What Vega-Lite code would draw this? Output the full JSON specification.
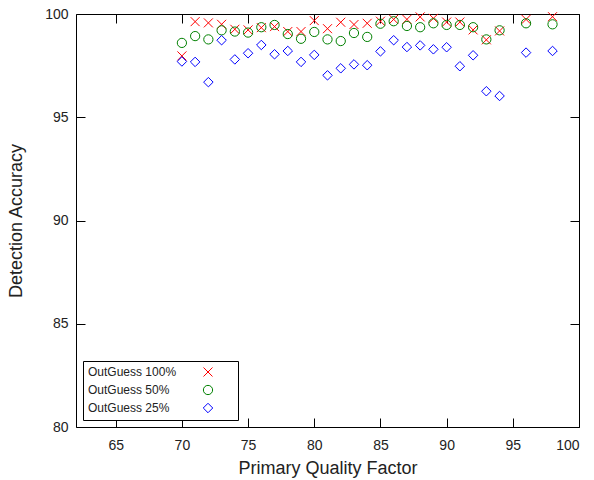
{
  "$schema": "https://vega.github.io/schema/vega-lite/v6.json",
  "width": 503,
  "height": 413,
  "autosize": "none",
  "padding": {"left": 76, "top": 14, "right": 15, "bottom": 53},
  "background": "white",
  "config": {
    "view": {"stroke": "black", "strokeWidth": 1},
    "font": "Liberation Sans",
    "axis": {
      "grid": false,
      "labelFontSize": 14,
      "labelColor": "#222222",
      "titleFontSize": 18,
      "titleFontWeight": "normal",
      "titleColor": "#222222",
      "labelFont": "Liberation Sans",
      "titleFont": "Liberation Sans"
    }
  },
  "data": {
    "values": [
      {"q": 70, "series": "OutGuess 100%", "acc": 97.97},
      {"q": 71, "series": "OutGuess 100%", "acc": 99.63},
      {"q": 72, "series": "OutGuess 100%", "acc": 99.57},
      {"q": 73, "series": "OutGuess 100%", "acc": 99.5},
      {"q": 74, "series": "OutGuess 100%", "acc": 99.26},
      {"q": 75, "series": "OutGuess 100%", "acc": 99.23},
      {"q": 76, "series": "OutGuess 100%", "acc": 99.34},
      {"q": 77, "series": "OutGuess 100%", "acc": 99.39},
      {"q": 78, "series": "OutGuess 100%", "acc": 99.15},
      {"q": 79, "series": "OutGuess 100%", "acc": 99.15},
      {"q": 80, "series": "OutGuess 100%", "acc": 99.68},
      {"q": 81, "series": "OutGuess 100%", "acc": 99.29},
      {"q": 82, "series": "OutGuess 100%", "acc": 99.6},
      {"q": 83, "series": "OutGuess 100%", "acc": 99.49},
      {"q": 84, "series": "OutGuess 100%", "acc": 99.55},
      {"q": 85, "series": "OutGuess 100%", "acc": 99.65},
      {"q": 86, "series": "OutGuess 100%", "acc": 99.74},
      {"q": 87, "series": "OutGuess 100%", "acc": 99.74},
      {"q": 88, "series": "OutGuess 100%", "acc": 99.86},
      {"q": 89, "series": "OutGuess 100%", "acc": 99.79},
      {"q": 90, "series": "OutGuess 100%", "acc": 99.61},
      {"q": 91, "series": "OutGuess 100%", "acc": 99.61},
      {"q": 92, "series": "OutGuess 100%", "acc": 99.23},
      {"q": 93, "series": "OutGuess 100%", "acc": 98.75},
      {"q": 94, "series": "OutGuess 100%", "acc": 99.18},
      {"q": 96, "series": "OutGuess 100%", "acc": 99.74},
      {"q": 98, "series": "OutGuess 100%", "acc": 99.87},
      {"q": 70, "series": "OutGuess 50%", "acc": 98.6},
      {"q": 71, "series": "OutGuess 50%", "acc": 98.93},
      {"q": 72, "series": "OutGuess 50%", "acc": 98.77},
      {"q": 73, "series": "OutGuess 50%", "acc": 99.21},
      {"q": 74, "series": "OutGuess 50%", "acc": 99.15},
      {"q": 75, "series": "OutGuess 50%", "acc": 99.1},
      {"q": 76, "series": "OutGuess 50%", "acc": 99.36},
      {"q": 77, "series": "OutGuess 50%", "acc": 99.47},
      {"q": 78, "series": "OutGuess 50%", "acc": 99.03},
      {"q": 79, "series": "OutGuess 50%", "acc": 98.8},
      {"q": 80, "series": "OutGuess 50%", "acc": 99.13},
      {"q": 81, "series": "OutGuess 50%", "acc": 98.77},
      {"q": 82, "series": "OutGuess 50%", "acc": 98.69},
      {"q": 83, "series": "OutGuess 50%", "acc": 99.08},
      {"q": 84, "series": "OutGuess 50%", "acc": 98.89},
      {"q": 85, "series": "OutGuess 50%", "acc": 99.53},
      {"q": 86, "series": "OutGuess 50%", "acc": 99.65},
      {"q": 87, "series": "OutGuess 50%", "acc": 99.42},
      {"q": 88, "series": "OutGuess 50%", "acc": 99.36},
      {"q": 89, "series": "OutGuess 50%", "acc": 99.55},
      {"q": 90, "series": "OutGuess 50%", "acc": 99.47},
      {"q": 91, "series": "OutGuess 50%", "acc": 99.47},
      {"q": 92, "series": "OutGuess 50%", "acc": 99.36},
      {"q": 93, "series": "OutGuess 50%", "acc": 98.77},
      {"q": 94, "series": "OutGuess 50%", "acc": 99.21},
      {"q": 96, "series": "OutGuess 50%", "acc": 99.55},
      {"q": 98, "series": "OutGuess 50%", "acc": 99.5},
      {"q": 70, "series": "OutGuess 25%", "acc": 97.7},
      {"q": 71, "series": "OutGuess 25%", "acc": 97.68},
      {"q": 72, "series": "OutGuess 25%", "acc": 96.7},
      {"q": 73, "series": "OutGuess 25%", "acc": 98.73},
      {"q": 74, "series": "OutGuess 25%", "acc": 97.8},
      {"q": 75, "series": "OutGuess 25%", "acc": 98.1},
      {"q": 76, "series": "OutGuess 25%", "acc": 98.5},
      {"q": 77, "series": "OutGuess 25%", "acc": 98.05},
      {"q": 78, "series": "OutGuess 25%", "acc": 98.21},
      {"q": 79, "series": "OutGuess 25%", "acc": 97.68},
      {"q": 80, "series": "OutGuess 25%", "acc": 98.02},
      {"q": 81, "series": "OutGuess 25%", "acc": 97.03},
      {"q": 82, "series": "OutGuess 25%", "acc": 97.37},
      {"q": 83, "series": "OutGuess 25%", "acc": 97.56},
      {"q": 84, "series": "OutGuess 25%", "acc": 97.52},
      {"q": 85, "series": "OutGuess 25%", "acc": 98.19},
      {"q": 86, "series": "OutGuess 25%", "acc": 98.73},
      {"q": 87, "series": "OutGuess 25%", "acc": 98.4},
      {"q": 88, "series": "OutGuess 25%", "acc": 98.48},
      {"q": 89, "series": "OutGuess 25%", "acc": 98.29},
      {"q": 90, "series": "OutGuess 25%", "acc": 98.39},
      {"q": 91, "series": "OutGuess 25%", "acc": 97.47},
      {"q": 92, "series": "OutGuess 25%", "acc": 98.0},
      {"q": 93, "series": "OutGuess 25%", "acc": 96.26},
      {"q": 94, "series": "OutGuess 25%", "acc": 96.03},
      {"q": 96, "series": "OutGuess 25%", "acc": 98.13},
      {"q": 98, "series": "OutGuess 25%", "acc": 98.21}
    ]
  },
  "layer": [
    {
      "mark": {"type": "point", "filled": false, "strokeWidth": 1, "opacity": 1},
      "encoding": {
        "x": {"field": "q", "type": "quantitative", "scale": {"domain": [62, 100], "nice": false, "zero": false},
          "axis": {"orient": "bottom", "ticks": false, "domain": false, "values": [65, 70, 75, 80, 85, 90, 95, 100], "title": "Primary Quality Factor", "labelPadding": 11, "titlePadding": 7}},
        "y": {"field": "acc", "type": "quantitative", "scale": {"domain": [80, 100], "nice": false, "zero": false},
          "axis": {"orient": "left", "ticks": false, "domain": false, "values": [80, 85, 90, 95, 100], "title": "Detection Accuracy", "labelPadding": 8, "titlePadding": 19}},
        "color": {"field": "series", "type": "nominal",
          "scale": {"domain": ["OutGuess 100%", "OutGuess 50%", "OutGuess 25%"], "range": ["#ff0000", "#008000", "#0000ff"]},
          "legend": {
            "title": "\u00a0", "titleOrient": "right", "titlePadding": 18, "titleFontSize": 12,
            "orient": "none", "legendX": 7, "legendY": 347,
            "strokeColor": "black", "fillColor": "white", "padding": 5,
            "labelFontSize": 12, "labelColor": "#222222", "labelFont": "Liberation Sans",
            "symbolOffset": 114, "labelOffset": -126, "rowPadding": 4, "symbolStrokeWidth": 1
          }},
        "shape": {"field": "series", "type": "nominal",
          "scale": {"domain": ["OutGuess 100%", "OutGuess 50%", "OutGuess 25%"], "range": ["M-1,-1L1,1M1,-1L-1,1", "circle", "diamond"]}},
        "size": {"field": "series", "type": "nominal",
          "scale": {"domain": ["OutGuess 100%", "OutGuess 50%", "OutGuess 25%"], "range": [81, 90, 169]}}
      }
    },
    {
      "mark": {"type": "point", "opacity": 0},
      "encoding": {
        "x": {"field": "q", "type": "quantitative", "axis": {"orient": "bottom", "offset": -9, "tickColor": "black", "tickSize": 9, "tickWidth": 1, "tickCount": 8, "labels": false, "domain": false, "title": null}},
        "y": {"field": "acc", "type": "quantitative", "axis": {"orient": "left", "offset": -9, "tickColor": "black", "tickSize": 9, "tickWidth": 1, "tickCount": 4, "labels": false, "domain": false, "title": null}}
      }
    },
    {
      "mark": {"type": "point", "opacity": 0},
      "encoding": {
        "x": {"field": "q", "type": "quantitative", "axis": {"orient": "top", "offset": -9, "tickColor": "black", "tickSize": 9, "tickWidth": 1, "tickCount": 8, "labels": false, "domain": false, "title": null}},
        "y": {"field": "acc", "type": "quantitative", "axis": {"orient": "right", "offset": -9, "tickColor": "black", "tickSize": 9, "tickWidth": 1, "tickCount": 4, "labels": false, "domain": false, "title": null}}
      }
    }
  ],
  "resolve": {"axis": {"x": "independent", "y": "independent"}}
}
